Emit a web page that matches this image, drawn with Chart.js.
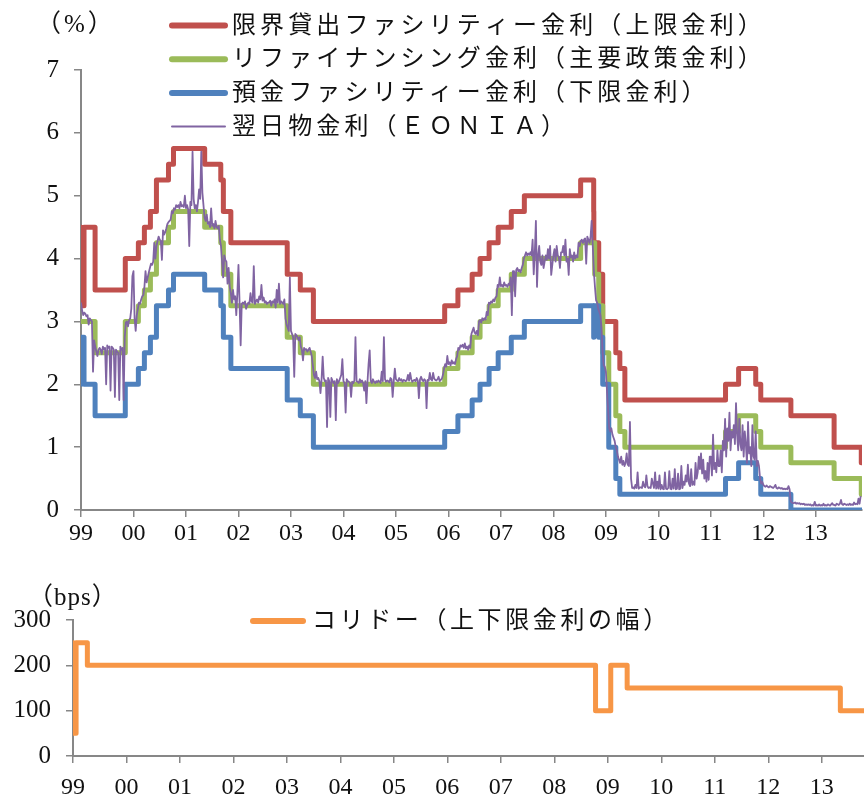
<!DOCTYPE html>
<html>
<head>
<meta charset="utf-8">
<script src="https://cdn.jsdelivr.net/npm/chart.js@4.4.1/dist/chart.umd.min.js"></script>
<style>
  html, body { margin: 0; padding: 0; background: #fff; width: 864px; height: 800px; overflow: hidden; }
  .panel { position: absolute; left: 0; }
</style>
</head>
<body>
<canvas id="ratesChart" class="panel" width="864" height="550" style="top:0"></canvas>
<canvas id="corridorChart" class="panel" width="864" height="240" style="top:560px"></canvas>
<script>
// ECB policy rate changes (effective dates) and the rate in force from each date, %
const rateDates = [
  '1999-01-01','1999-01-04','1999-01-22','1999-04-09','1999-11-05','2000-02-04','2000-03-17','2000-04-28',
  '2000-06-09','2000-09-01','2000-10-06','2001-05-11','2001-08-31','2001-09-18','2001-11-09','2002-12-06',
  '2003-03-07','2003-06-06','2005-12-06','2006-03-08','2006-06-15','2006-08-09','2006-10-11','2006-12-13',
  '2007-03-14','2007-06-13','2008-07-09','2008-10-08','2008-10-09','2008-10-15','2008-11-12','2008-12-10',
  '2009-01-21','2009-03-11','2009-04-08','2009-05-13','2011-04-13','2011-07-13','2011-11-09','2011-12-14',
  '2012-07-11','2013-05-08','2013-11-13'
];
const lendingRate = [
  4.50, 3.25, 4.50, 3.50, 4.00, 4.25, 4.50, 4.75,
  5.25, 5.50, 5.75, 5.50, 5.25, 4.75, 4.25, 3.75,
  3.50, 3.00, 3.25, 3.50, 3.75, 4.00, 4.25, 4.50,
  4.75, 5.00, 5.25, 4.75, 4.25, 4.25, 3.75, 3.00,
  3.00, 2.50, 2.25, 1.75, 2.00, 2.25, 2.00, 1.75,
  1.50, 1.00, 0.75
];
const refiRate = [
  3.00, 3.00, 3.00, 2.50, 3.00, 3.25, 3.50, 3.75,
  4.25, 4.50, 4.75, 4.50, 4.25, 3.75, 3.25, 2.75,
  2.50, 2.00, 2.25, 2.50, 2.75, 3.00, 3.25, 3.50,
  3.75, 4.00, 4.25, 4.25, 4.25, 3.75, 3.25, 2.50,
  2.00, 1.50, 1.25, 1.00, 1.25, 1.50, 1.25, 1.00,
  0.75, 0.50, 0.25
];
const depositRate = [
  2.00, 2.75, 2.00, 1.50, 2.00, 2.25, 2.50, 2.75,
  3.25, 3.50, 3.75, 3.50, 3.25, 2.75, 2.25, 1.75,
  1.50, 1.00, 1.25, 1.50, 1.75, 2.00, 2.25, 2.50,
  2.75, 3.00, 3.25, 2.75, 3.25, 3.25, 2.75, 2.00,
  1.00, 0.50, 0.25, 0.25, 0.50, 0.75, 0.50, 0.25,
  0.00, 0.00, 0.00
];
const ratesEndDate = '2013-11-18';
const corridorEnd = 2013.79;
const yearTicks = [1999,2000,2001,2002,2003,2004,2005,2006,2007,2008,2009,2010,2011,2012,2013];

// EONIA, four readings per month (%)
const eonia1999 = [3.30,3.18,3.10,3.14, 3.12,3.08,3.10,2.95, 3.05,3.02,3.00,2.20, 2.70,2.60,2.52,2.45,
  2.55,2.58,2.55,2.48, 2.60,2.56,2.58,2.00, 2.62,2.58,2.60,1.90, 2.60,2.58,2.55,1.80,
  2.55,2.52,2.50,1.75, 2.60,2.55,2.58,1.75, 2.75,2.98,3.00,2.92, 3.02,3.05,3.20,3.72];
const eonia2000 = [3.80,3.05,2.85,3.10, 3.20,3.30,3.28,3.35, 3.40,3.42,3.55,3.80, 3.62,3.70,3.78,3.85,
  3.92,3.90,3.95,4.25, 4.00,4.20,4.28,4.35, 4.30,4.28,3.98,4.45, 4.38,4.42,4.48,4.55,
  4.58,4.60,4.62,4.75, 4.72,4.80,4.78,4.85, 4.82,4.85,4.80,4.90, 4.83,4.85,4.82,5.00];
const eonia2001 = [4.80,4.85,4.78,4.20, 4.90,4.85,5.70,4.95, 4.80,4.85,4.75,4.90, 5.10,4.95,5.70,5.05,
  4.85,4.65,4.60,4.70, 4.55,4.58,4.50,4.80, 4.52,4.55,4.48,4.60, 4.50,4.48,4.52,4.30,
  4.20,3.95,3.70,4.05, 3.98,3.95,3.60,3.85, 3.55,3.45,3.30,3.50, 3.35,3.40,3.10,3.45];
const eonia2002 = [3.90,3.30,2.62,3.28, 3.30,3.28,3.32,3.20, 3.26,3.30,3.28,3.45, 3.32,3.30,3.88,3.28,
  3.32,3.35,3.30,3.40, 3.35,3.58,3.33,3.38, 3.30,3.32,3.28,3.30, 3.30,3.33,3.25,3.32,
  3.30,3.35,3.22,3.50, 3.30,3.60,3.28,3.32, 3.30,3.28,3.35,3.05, 2.95,2.90,2.85,3.70];
const eonia2003 = [2.85,2.80,2.75,2.12, 2.80,2.78,2.75,2.70, 2.75,2.60,2.55,2.38, 2.58,2.55,2.56,2.52,
  2.55,2.58,2.52,2.45, 2.30,2.15,2.10,2.20, 2.08,2.10,2.05,1.86, 2.08,2.44,2.10,2.05,
  2.06,1.32,2.10,2.05, 1.48,2.10,2.06,2.02, 2.05,1.43,2.08,2.02, 2.05,2.10,2.15,2.40];
const eonia2004 = [2.05,2.02,1.55,2.08, 2.05,2.04,2.02,1.80, 2.04,2.02,2.06,2.75, 2.05,2.04,2.02,2.08,
  2.03,2.06,2.02,1.90, 2.05,1.70,2.04,2.33, 2.54,2.05,2.02,2.08, 2.04,2.02,2.05,2.03,
  2.06,2.04,2.02,2.20, 2.05,2.75,2.08,2.04, 2.06,2.05,2.03,2.10, 2.08,1.80,2.05,2.25];
const eonia2005 = [2.08,2.06,2.05,2.10, 2.06,2.08,2.04,2.07, 2.06,2.05,2.07,2.15, 2.06,2.18,2.08,2.04,
  2.06,2.07,2.05,2.10, 2.06,1.78,2.08,2.12, 2.07,2.05,2.08,2.06, 1.62,2.07,2.06,2.18,
  2.08,2.06,2.18,2.09, 2.07,2.06,2.08,2.12, 2.05,2.07,2.09,2.15, 2.25,2.32,2.28,2.45];
const eonia2006 = [2.32,2.35,2.30,2.38, 2.33,2.35,2.32,2.40, 2.45,2.58,2.55,2.62, 2.60,2.63,2.58,2.65,
  2.57,2.60,2.55,2.62, 2.58,2.80,2.85,2.90, 2.82,2.80,2.85,2.78, 3.00,3.02,2.98,3.05,
  3.02,3.05,3.03,3.15, 3.10,3.30,3.28,3.32, 3.30,3.35,3.32,3.38, 3.40,3.58,3.55,3.70];
const eonia2007 = [3.56,3.58,3.55,3.62, 3.57,3.58,3.55,3.60, 3.58,3.70,3.10,3.80, 3.80,3.40,3.82,3.85,
  3.80,3.82,3.78,3.85, 3.90,4.00,4.05,4.10, 4.05,4.08,4.06,4.10, 4.05,4.30,3.75,4.10,
  4.60,3.55,4.05,4.20, 3.95,3.90,4.05,3.85, 3.95,4.05,3.98,4.15, 4.00,4.20,3.74,3.90];
const eonia2008 = [4.05,4.15,3.95,4.20, 4.05,4.02,3.85,4.10, 4.10,4.20,4.05,4.30, 3.95,4.00,3.74,4.15,
  4.02,4.05,3.95,4.10, 4.00,4.05,4.02,4.25, 4.20,4.28,4.30,4.25, 4.30,4.32,3.92,4.35,
  4.30,4.25,4.35,4.60, 4.20,3.80,3.55,3.34, 3.30,3.20,3.15,3.10, 2.90,2.50,2.30,2.28];
const eonia2009 = [2.20,1.90,1.60,1.30, 1.25,1.30,1.20,1.15, 1.10,1.00,0.95,0.85, 0.80,0.75,0.85,0.72,
  0.78,0.70,0.75,0.90, 0.72,0.70,1.40,0.50, 0.35,0.36,0.34,0.40, 0.35,0.60,0.34,0.36,
  0.36,0.35,0.45,0.38, 0.36,0.55,0.38,0.35, 0.36,0.35,0.50,0.42, 0.35,0.60,0.34,0.45];
const eonia2010 = [0.34,0.55,0.33,0.40, 0.34,0.33,0.60,0.34, 0.33,0.35,0.62,0.34, 0.33,0.50,0.34,0.65,
  0.33,0.34,0.58,0.33, 0.34,0.70,0.35,0.45, 0.40,0.55,0.45,0.72, 0.42,0.38,0.65,0.40,
  0.45,0.40,0.75,0.50, 0.60,0.85,0.65,0.90, 0.58,0.80,0.50,0.62, 0.45,0.75,0.48,0.85];
const eonia2011 = [0.85,0.55,1.20,0.65, 0.75,0.60,0.95,0.70, 0.70,0.95,0.60,1.10, 0.95,1.45,0.85,1.30,
  1.10,1.55,0.95,1.25, 1.15,1.35,1.05,1.70, 1.20,0.95,1.45,1.05, 0.95,1.35,0.85,1.25,
  1.05,0.75,1.40,0.90, 1.00,0.70,1.35,0.85, 0.80,1.25,0.70,0.78, 0.70,0.50,0.42,0.45];
const eonia2012 = [0.40,0.38,0.37,0.39, 0.37,0.36,0.38,0.37, 0.36,0.35,0.37,0.40, 0.35,0.34,0.36,0.35,
  0.34,0.35,0.33,0.34, 0.33,0.34,0.33,0.38, 0.33,0.14,0.12,0.11, 0.11,0.12,0.10,0.11,
  0.10,0.11,0.09,0.10, 0.09,0.10,0.08,0.09, 0.08,0.09,0.08,0.09, 0.07,0.08,0.07,0.13];
const eonia2013 = [0.07,0.08,0.07,0.09, 0.07,0.08,0.07,0.10, 0.07,0.08,0.07,0.09, 0.08,0.07,0.09,0.11,
  0.08,0.08,0.07,0.10, 0.09,0.08,0.10,0.16, 0.09,0.08,0.10,0.09, 0.08,0.09,0.08,0.10,
  0.08,0.09,0.08,0.12, 0.09,0.10,0.09,0.18, 0.10,0.22];
const eoniaYears = yearTicks;
const eoniaByYear = [eonia1999,eonia2000,eonia2001,eonia2002,eonia2003,eonia2004,eonia2005,eonia2006,
  eonia2007,eonia2008,eonia2009,eonia2010,eonia2011,eonia2012,eonia2013];

const seriesLabels = [
  '限界貸出ファシリティー金利（上限金利）',
  'リファイナンシング金利（主要政策金利）',
  '預金ファシリティー金利（下限金利）',
  '翌日物金利（ＥＯＮＩＡ）'
];
const corridorLabel = 'コリドー（上下限金利の幅）';

// date string -> fractional year
function toYear(s) {
  const [y, m, d] = s.split('-').map(Number);
  const start = Date.UTC(y, 0, 1), next = Date.UTC(y + 1, 0, 1);
  return y + (Date.UTC(y, m - 1, d) - start) / (next - start);
}
function stepPoints(values, endX) {
  const pts = rateDates.map((d, i) => ({ x: toYear(d), y: values[i] }));
  pts.push({ x: endX, y: values[values.length - 1] });
  return pts;
}
const ratesEnd = toYear(ratesEndDate);
const eoniaPoints = [];
eoniaByYear.forEach((vals, k) => vals.forEach((v, i) => eoniaPoints.push({ x: eoniaYears[k] + i / 48, y: v })));
const corridorBps = lendingRate.map((v, i) => Math.round((v - depositRate[i]) * 100));

const AXIS = '#878787';
const NUM_FONT = "'Liberation Serif', 'DejaVu Serif', serif";
const TXT_FONT = "'Liberation Serif', 'Noto Sans CJK JP', serif";

// stacked legend rows and the unit caption, drawn on top of the plot
const rowLegend = {
  id: 'rowLegend',
  afterDraw(chart, args, o) {
    const ctx = chart.ctx;
    ctx.save();
    ctx.textBaseline = 'middle';
    ctx.fillStyle = '#111';
    ctx.font = o.font;
    ctx.letterSpacing = o.spacing;
    chart.data.datasets.forEach((ds, i) => {
      const y = o.y0 + i * o.dy;
      ctx.strokeStyle = ds.borderColor;
      ctx.lineWidth = ds.keyWidth;
      ctx.lineCap = 'round';
      ctx.beginPath();
      ctx.moveTo(o.x0, y);
      ctx.lineTo(o.x1, y);
      ctx.stroke();
      ctx.textAlign = 'left';
      ctx.fillText(ds.label, o.tx, y + 1);
    });
    ctx.letterSpacing = o.unitSpacing;
    ctx.font = o.unitFont;
    ctx.textAlign = 'left';
    ctx.fillText(o.unit, o.ux, o.uy);
    ctx.restore();
  }
};

function axisX(min, max, h, pad) {
  return {
    type: 'linear', min: min, max: max,
    afterBuildTicks: s => { s.ticks = yearTicks.map(v => ({ value: v })); },
    afterFit: s => { s.height = h; },
    border: { color: AXIS, width: 2 },
    grid: { drawOnChartArea: false, drawTicks: true, tickLength: 7, color: AXIS, lineWidth: 1.5 },
    ticks: {
      autoSkip: false, maxRotation: 0, padding: pad, color: '#111',
      font: { family: NUM_FONT, size: 24 },
      callback: v => String(Math.round(v) % 100).padStart(2, '0')
    }
  };
}
function axisY(max, step, w) {
  return {
    min: 0, max: max,
    afterFit: s => { s.width = w; },
    border: { color: AXIS, width: 2 },
    grid: { drawOnChartArea: false, drawTicks: true, tickLength: 7, color: AXIS, lineWidth: 1.5 },
    ticks: { stepSize: step, padding: 15, color: '#111', font: { family: NUM_FONT, size: 25 } }
  };
}
function stepLine(label, data, color, order) {
  return {
    label: label, data: data, borderColor: color, borderWidth: 5, keyWidth: 6,
    stepped: 'before', pointRadius: 0, borderJoinStyle: 'round', borderCapStyle: 'round', order: order
  };
}

new Chart(document.getElementById('ratesChart'), {
  type: 'line',
  data: {
    datasets: [
      stepLine(seriesLabels[0], stepPoints(lendingRate, ratesEnd), '#C0504D', 4),
      stepLine(seriesLabels[1], stepPoints(refiRate, ratesEnd), '#9BBB59', 3),
      stepLine(seriesLabels[2], stepPoints(depositRate, ratesEnd), '#4F81BD', 2),
      { label: seriesLabels[3], data: eoniaPoints, borderColor: '#8064A2', borderWidth: 1.8, keyWidth: 2,
        pointRadius: 0, tension: 0, borderJoinStyle: 'round', order: 1 }
    ]
  },
  options: {
    responsive: false, animation: false, devicePixelRatio: 1,
    layout: { padding: { top: 70, right: 2, left: 0, bottom: 0 } },
    plugins: {
      legend: { display: false }, tooltip: { enabled: false },
      rowLegend: { x0: 172, x1: 225, tx: 232, y0: 25.5, dy: 33.7, font: '24px ' + TXT_FONT, spacing: '4.1px',
        unit: '（%）', unitFont: '25px ' + TXT_FONT, unitSpacing: '3px', ux: 36, uy: 25 }
    },
    scales: { x: axisX(1999, ratesEnd, 40, 2), y: axisY(7, 1, 81) }
  },
  plugins: [rowLegend]
});

new Chart(document.getElementById('corridorChart'), {
  type: 'line',
  data: {
    datasets: [
      { label: corridorLabel,
        data: rateDates.map((d, i) => ({ x: toYear(d), y: corridorBps[i] })),
        borderColor: '#F79646', borderWidth: 5, keyWidth: 6, stepped: 'before', pointRadius: 0,
        borderJoinStyle: 'round', borderCapStyle: 'round' }
    ]
  },
  options: {
    responsive: false, animation: false, devicePixelRatio: 1,
    layout: { padding: { top: 60, right: 0, left: 0, bottom: 0 } },
    plugins: {
      legend: { display: false }, tooltip: { enabled: false },
      rowLegend: { x0: 253, x1: 303, tx: 312, y0: 61, dy: 0, font: '24px ' + TXT_FONT, spacing: '3.6px',
        unit: '（bps）', unitFont: '25px ' + TXT_FONT, unitSpacing: '1px', ux: 28, uy: 38 }
    },
    scales: { x: axisX(1999, corridorEnd, 44, 10), y: axisY(300, 100, 73) }
  },
  plugins: [rowLegend]
});
</script>
</body>
</html>
